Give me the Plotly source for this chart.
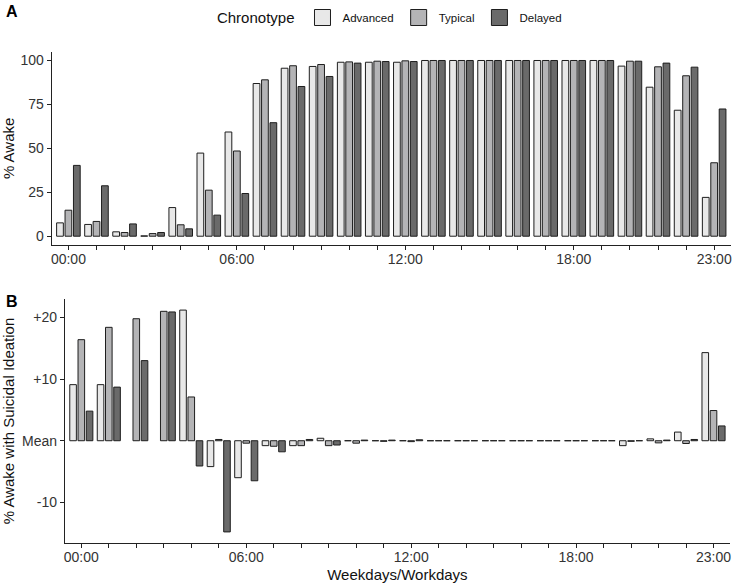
import plotly.graph_objects as go

# ---------------- data ----------------
hours = list(range(24))
hour_labels = {0: "00:00", 6: "06:00", 12: "12:00", 18: "18:00", 23: "23:00"}
tick_text = [hour_labels.get(h, "") for h in hours]

chronotypes = ["Advanced", "Typical", "Delayed"]

# Panel A: % awake per hour
awake_advanced = [7.6, 6.7, 2.5, 0.2, 16.3, 47.3, 59.3, 86.9, 95.6, 96.6, 99.0, 99.0,
                  99.0, 100, 100, 100, 100, 100, 100, 100, 96.8, 84.8, 71.7, 22.1]
awake_typical = [14.8, 8.4, 2.1, 1.5, 6.5, 26.2, 48.5, 89.0, 97.0, 97.7, 99.2, 99.6,
                 99.8, 100, 100, 100, 100, 100, 100, 100, 99.6, 96.4, 91.3, 41.8]
awake_delayed = [40.3, 28.7, 7.0, 2.1, 4.2, 12.0, 24.3, 64.6, 85.2, 90.9, 98.5, 99.4,
                 99.4, 100, 100, 100, 100, 100, 100, 100, 99.6, 98.5, 96.2, 72.4]

# Panel B: % awake with suicidal ideation, relative to mean (None = no data)
si_advanced = [9.1, 9.1, None, None, 21.2, -4.2, -6.0, -0.8, -0.8, 0.4, 0.0, 0.0,
               0.0, 0, 0, 0, 0, 0, 0, 0, -0.8, 0.3, 1.4, 14.3]
si_typical = [16.4, 18.4, 19.8, 21.0, 7.1, 0.2, -0.4, -0.9, -0.8, -0.8, -0.4, -0.1,
              -0.15, 0, 0, 0, 0, 0, 0, 0, -0.1, -0.35, -0.45, 4.9]
si_delayed = [4.8, 8.7, 13.0, 20.9, -4.1, -14.8, -6.5, -1.8, 0.2, -0.7, 0.1, 0.1,
              0.15, 0, 0, 0, 0, 0, 0, 0, 0.0, 0.1, 0.2, 2.4]

si_tickvals = [-10, 0, 10, 20]
si_ticktext = ["-10", "Mean", "+10", "+20"]
awake_tickvals = [0, 25, 50, 75, 100]

# ---------------- styling ----------------
colors = {"Advanced": "#E8E8E8", "Typical": "#B4B4B6", "Delayed": "#6A6A6A"}
outline = "#1E1E1E"
FONT = "Liberation Sans, Arial, sans-serif"
W, H = 735, 583

awake = {"Advanced": awake_advanced, "Typical": awake_typical, "Delayed": awake_delayed}
si = {"Advanced": si_advanced, "Typical": si_typical, "Delayed": si_delayed}

fig = go.Figure()
for c in chronotypes:
    fig.add_trace(go.Bar(x=hours, y=awake[c], name=c, xaxis="x", yaxis="y",
                         marker=dict(color=colors[c], line=dict(color=outline, width=1)),
                         showlegend=False, legendgroup=c))
for c in chronotypes:
    fig.add_trace(go.Bar(x=hours, y=si[c], name=c, xaxis="x2", yaxis="y2",
                         marker=dict(color=colors[c], line=dict(color=outline, width=1)),
                         showlegend=False, legendgroup=c))
# legend keys
for c in chronotypes:
    fig.add_trace(go.Scatter(x=[None], y=[None], mode="markers", name=c,
                             xaxis="x", yaxis="y", legendgroup=c,
                             marker=dict(symbol="square", size=16, color=colors[c],
                                         line=dict(color=outline, width=1))))

def px_x(v):
    return v / W

def px_y(v):
    return 1 - v / H

common_x = dict(tickvals=hours, ticktext=tick_text, ticks="outside", ticklen=4,
                tickwidth=1, tickcolor="#222", showline=True, linecolor="#222",
                linewidth=1, showgrid=False, zeroline=False, ticklabelstandoff=-3,
                tickfont=dict(size=14, color="#333", family=FONT),
                range=[-0.6, 23.6], fixedrange=True)
common_y = dict(ticks="outside", ticklen=4, tickwidth=1, tickcolor="#222",
                showline=True, linecolor="#222", linewidth=1, showgrid=False,
                zeroline=False, tickfont=dict(size=14, color="#333", family=FONT),
                fixedrange=True)

fig.update_layout(
    width=W, height=H,
    margin=dict(l=0, r=0, t=0, b=0),
    paper_bgcolor="white", plot_bgcolor="white",
    font=dict(family=FONT, color="#111"),
    barmode="group", bargap=0.1, bargroupgap=0.2,
    xaxis=dict(domain=[px_x(50.7), px_x(732)], anchor="y", **common_x),
    yaxis=dict(domain=[px_y(245), px_y(51.7)], anchor="x", range=[-5, 105],
               tickvals=awake_tickvals,
               title=dict(text="% Awake", font=dict(size=15, family=FONT, color="#111"),
                          standoff=6),
               **common_y),
    xaxis2=dict(domain=[px_x(64), px_x(731)], anchor="y2",
                title=dict(text="Weekdays/Workdays", font=dict(size=15, family=FONT, color="#111"),
                           standoff=5),
                **common_x),
    yaxis2=dict(domain=[px_y(543), px_y(299)], anchor="x2", range=[-16.6, 23.0],
                tickvals=si_tickvals, ticktext=si_ticktext,
                title=dict(text="% Awake with Suicidal Ideation",
                           font=dict(size=15, family=FONT, color="#111"), standoff=6),
                **common_y),
    legend=dict(orientation="h", x=px_x(391), xanchor="center", y=px_y(18),
                yanchor="middle", title=dict(text="Chronotype", side="left",
                                             font=dict(size=15, family=FONT, color="#111")),
                font=dict(size=11.5, family=FONT, color="#111"),
                bgcolor="rgba(0,0,0,0)", itemclick=False, itemdoubleclick=False),
    annotations=[
        dict(text="<b>A</b>", x=px_x(3), y=px_y(1), xref="paper", yref="paper",
             xanchor="left", yanchor="top", showarrow=False,
             font=dict(size=16, family=FONT, color="#000")),
        dict(text="<b>B</b>", x=px_x(3), y=px_y(291), xref="paper", yref="paper",
             xanchor="left", yanchor="top", showarrow=False,
             font=dict(size=16, family=FONT, color="#000")),
    ],
)

# remove the browser's default page margin so the figure fills the window exactly
fig.write_html("out.html",
               config={"displayModeBar": False},
               post_script="document.body.style.margin='0';"
                           "document.body.style.padding='0';"
                           "document.body.style.overflow='hidden';")
